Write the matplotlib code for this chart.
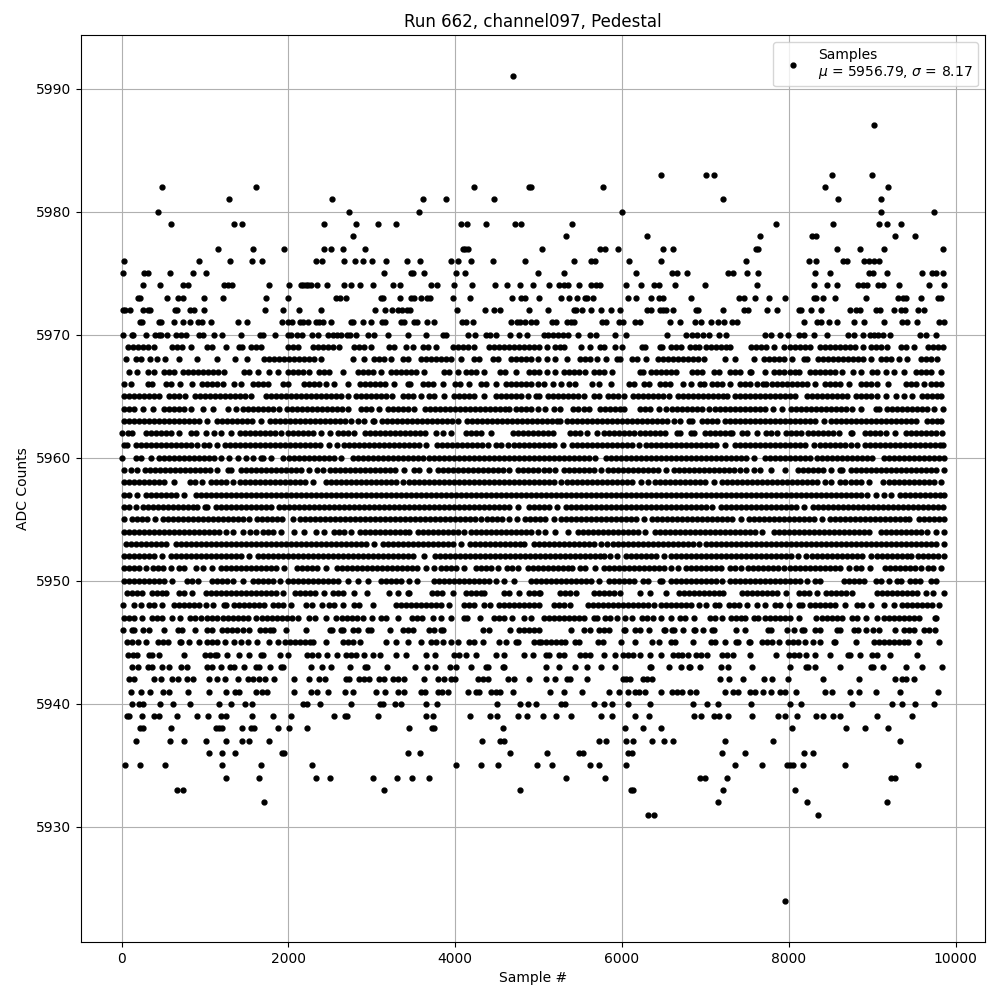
import matplotlib
matplotlib.use("Agg")
import matplotlib.pyplot as plt

# sample numbers for each ADC level
s5991 = [4688]
s5987 = [9024]
s5983 = [6468, 7008, 7104, 8520, 9000]
s5982 = [488, 1616, 4220, 4880, 4912, 5772, 8436, 9192]
s5981 = [1292, 2528, 3620, 3884, 4460, 7212, 8592, 9108]
s5980 = [440, 2732, 3572, 6000, 9108, 9744]
s5979 = [596, 1352, 1448, 2432, 2816, 3080, 3296, 4064, 4136, 4364, 4712, 4784, 5400, 7848, 8532, 9084, 9180, 9348]
s5978 = [2780, 5328, 6300, 7656, 8280, 8328, 9276, 9516]
s5977 = [1160, 1580, 1952, 2432, 2516, 2660, 2924, 4088, 4120, 4148, 5040, 5736, 5796, 5952, 6492, 6612, 7608, 7628, 8580, 8856, 9144, 9852]
s5976 = [32, 932, 1304, 1568, 1688, 2336, 2408, 2672, 2804, 2900, 3008, 3176, 3428, 3584, 3944, 4028, 4184, 4448, 4832, 5424, 5628, 5676, 6084, 6468, 7488, 8244, 8328, 8652, 8700, 8904, 8964, 9020, 9084]
s5975 = [20, 272, 320, 584, 860, 1016, 3152, 3476, 3492, 3632, 4004, 4112, 4988, 5304, 6168, 6600, 6660, 6780, 7272, 7332, 7500, 7632, 8316, 8496, 8964, 9012, 9180, 9600, 9720, 9768, 9852]
s5974 = [260, 464, 740, 800, 1232, 1280, 1328, 1772, 2012, 2156, 2180, 2208, 2240, 2268, 2348, 2468, 2672, 2756, 2864, 3020, 3260, 3344, 3704, 3776, 3980, 4196, 4472, 4616, 4772, 4928, 5124, 5244, 5304, 5352, 5484, 5628, 5688, 5736, 6048, 6228, 6384, 6444, 6636, 6996, 7620, 8304, 8460, 8580, 8832, 8892, 8940, 9072, 9132, 9324, 9684, 9860]
s5973 = [200, 224, 548, 680, 740, 992, 1220, 1736, 2000, 2576, 2624, 2696, 3116, 3140, 3344, 3476, 3512, 3596, 3660, 3692, 3968, 4172, 4676, 4784, 4832, 5000, 5268, 5364, 5460, 5556, 5580, 5652, 6072, 6168, 6348, 6444, 6492, 6828, 7404, 7464, 7596, 7764, 7956, 8304, 8328, 8412, 8556, 8928, 9312, 9364, 9408, 9588, 9792, 9828]
s5972 = [20, 44, 104, 260, 320, 344, 644, 660, 824, 872, 992, 1724, 1940, 2132, 2396, 3044, 3164, 3248, 3320, 3368, 3428, 3464, 4016, 4352, 4460, 4532, 4880, 5112, 5424, 5448, 5520, 5628, 5748, 5868, 5972, 6300, 6348, 6456, 6492, 6524, 6612, 6888, 6912, 7212, 7464, 7512, 7740, 7860, 8124, 8148, 8268, 8388, 8736, 8808, 8856, 9048, 9096, 9264, 9340, 9388, 9552, 9624]
s5971 = [224, 248, 452, 476, 632, 740, 824, 920, 968, 1076, 1400, 1508, 1928, 2000, 2048, 2144, 2180, 2240, 2336, 2372, 2420, 2516, 2756, 2780, 2900, 2996, 3128, 3164, 3356, 3392, 3512, 3548, 3668, 3740, 4076, 4124, 4208, 4664, 4736, 4772, 4832, 4904, 4964, 5160, 5208, 5340, 5388, 5424, 5760, 5808, 5964, 6012, 6156, 6216, 6576, 6696, 6876, 6948, 7068, 7152, 7224, 7320, 7380, 8184, 8340, 8388, 8484, 8580, 8784, 8904, 9144, 9356, 9420, 9540, 9804, 9860]
s5970 = [20, 128, 140, 296, 404, 452, 476, 548, 656, 716, 776, 932, 980, 1112, 1208, 1436, 1664, 1700, 1844, 2000, 2036, 2108, 2168, 2288, 2360, 2480, 2540, 2588, 2636, 2708, 2740, 2816, 2960, 3032, 3200, 3440, 3656, 3848, 3884, 4148, 4232, 4364, 4412, 4484, 4652, 4760, 4856, 5064, 5112, 5172, 5232, 5292, 5352, 5472, 5616, 5688, 5916, 6048, 6540, 6768, 6840, 6900, 6972, 7044, 7164, 7248, 7716, 7788, 7896, 7992, 8124, 8184, 8304, 8460, 8712, 8784, 8892, 8976, 9024, 9072, 9132, 9216, 9576, 9648, 9768]
s5969 = [80, 140, 200, 260, 320, 390, 610, 670, 730, 830, 1030, 1080, 1256, 1410, 1440, 1550, 1610, 1670, 1990, 2050, 2110, 2290, 2350, 2410, 2470, 2530, 2610, 2790, 2850, 2910, 2990, 3210, 3270, 3410, 3490, 3610, 3670, 3770, 3970, 4030, 4090, 4150, 4230, 4400, 4460, 4520, 4580, 4640, 4700, 4760, 4820, 4880, 4940, 5000, 5100, 5200, 5260, 5310, 5512, 5620, 5740, 5790, 5920, 6000, 6240, 6280, 6450, 6480, 6590, 6650, 6710, 6810, 6870, 6920, 7010, 7070, 7130, 7190, 7250, 7300, 7550, 7610, 7670, 7730, 7820, 7940, 8020, 8080, 8140, 8200, 8260, 8370, 8430, 8490, 8550, 8610, 8670, 8730, 8790, 8890, 8990, 9050, 9110, 9180, 9340, 9400, 9500, 9670, 9730, 9790, 9850]
s5968 = [48, 170, 230, 340, 420, 520, 692, 908, 1148, 1364, 1500, 1710, 1770, 1830, 1890, 1950, 2010, 2070, 2130, 2190, 2250, 2310, 2390, 2780, 2912, 3030, 3090, 3150, 3230, 3370, 3430, 3590, 3650, 3710, 3770, 3830, 3890, 3950, 4070, 4230, 4290, 4450, 4510, 4670, 4730, 4790, 4850, 4910, 4990, 5100, 5200, 5340, 5500, 5560, 5620, 5700, 5804, 5940, 5980, 6120, 6180, 6292, 6430, 6490, 6550, 6610, 6670, 6730, 6790, 6850, 6910, 6980, 7240, 7350, 7584, 7700, 7760, 7820, 7880, 7940, 8044, 8180, 8220, 8350, 8410, 8470, 8530, 8590, 8650, 8710, 8770, 8830, 8890, 8980, 9100, 9160, 9220, 9320, 9412, 9580, 9640, 9700, 9780]
s5967 = [90, 190, 320, 390, 510, 570, 630, 740, 800, 860, 920, 980, 1040, 1100, 1160, 1230, 1470, 1530, 1630, 1770, 1870, 1990, 2050, 2110, 2170, 2250, 2370, 2430, 2490, 2650, 2830, 2890, 2950, 3010, 3110, 3230, 3290, 3350, 3410, 3470, 3530, 3630, 3870, 3930, 4030, 4130, 4190, 4250, 4350, 4540, 4600, 4730, 4890, 4950, 5010, 5100, 5192, 5300, 5360, 5420, 5480, 5560, 5670, 5730, 5790, 5880, 6210, 6250, 6350, 6410, 6470, 6530, 6590, 6650, 6840, 6900, 6960, 7100, 7160, 7290, 7350, 7420, 7540, 7550, 7710, 7820, 7880, 7940, 8010, 8070, 8120, 8260, 8320, 8380, 8440, 8500, 8560, 8640, 8770, 8860, 9000, 9060, 9160, 9260, 9384, 9520, 9580, 9640, 9700, 9820]
s5966 = [30, 110, 320, 370, 530, 590, 700, 840, 960, 1020, 1080, 1140, 1210, 1350, 1430, 1570, 1630, 1690, 1760, 1930, 1990, 2190, 2250, 2310, 2370, 2450, 2548, 2720, 2860, 2920, 2980, 3040, 3100, 3160, 3270, 3430, 3460, 3610, 3670, 3730, 3848, 4000, 4060, 4160, 4310, 4370, 4490, 4610, 4670, 4730, 4790, 4850, 4910, 4990, 5060, 5172, 5272, 5370, 5440, 5640, 5720, 5864, 6090, 6140, 6260, 6320, 6460, 6520, 6580, 6732, 6832, 6930, 6980, 7080, 7140, 7200, 7300, 7420, 7480, 7540, 7620, 7692, 7732, 7800, 7860, 7920, 7980, 8040, 8100, 8160, 8220, 8320, 8440, 8500, 8560, 8620, 8720, 8860, 8920, 8980, 9060, 9192, 9400, 9460, 9520, 9624, 9710, 9770, 9830]
s5965 = [30, 90, 150, 210, 270, 330, 390, 450, 570, 630, 690, 760, 880, 940, 1000, 1060, 1120, 1180, 1240, 1300, 1360, 1420, 1480, 1550, 1730, 1790, 1850, 1910, 1970, 2030, 2090, 2150, 2210, 2270, 2330, 2390, 2450, 2510, 2570, 2630, 2710, 2810, 2870, 2930, 2990, 3050, 3110, 3170, 3240, 3370, 3430, 3490, 3590, 3690, 3750, 3870, 3990, 4050, 4110, 4170, 4230, 4350, 4490, 4550, 4610, 4670, 4730, 4790, 4870, 4970, 5010, 5110, 5170, 5230, 5290, 5350, 5410, 5470, 5540, 5660, 5720, 5830, 5890, 5950, 6020, 6130, 6190, 6250, 6310, 6370, 6430, 6490, 6560, 6670, 6730, 6790, 6850, 6910, 6970, 7030, 7090, 7150, 7210, 7260, 7360, 7420, 7480, 7540, 7600, 7660, 7720, 7780, 7840, 7900, 7960, 8020, 8080, 8220, 8280, 8340, 8400, 8460, 8520, 8580, 8640, 8700, 8800, 8860, 8920, 8980, 9060, 9170, 9280, 9380, 9480, 9600, 9660, 9720, 9780, 9820]
s5964 = [30, 90, 150, 260, 380, 510, 570, 630, 690, 750, 830, 980, 1100, 1270, 1370, 1460, 1520, 1580, 1640, 1700, 1760, 1820, 1890, 1980, 2040, 2100, 2160, 2220, 2280, 2340, 2400, 2460, 2520, 2580, 2640, 2720, 2870, 2930, 2990, 3090, 3200, 3260, 3320, 3380, 3440, 3510, 3640, 3700, 3760, 3820, 3880, 3940, 4000, 4060, 4120, 4180, 4240, 4300, 4360, 4420, 4480, 4540, 4600, 4650, 4730, 4790, 4850, 4910, 4990, 5080, 5180, 5260, 5410, 5470, 5540, 5610, 5740, 5800, 5860, 5920, 5980, 6030, 6220, 6280, 6340, 6440, 6524, 6600, 6660, 6720, 6780, 6840, 6900, 6960, 7040, 7120, 7180, 7240, 7300, 7360, 7420, 7480, 7540, 7600, 7660, 7720, 7810, 7924, 8030, 8090, 8150, 8210, 8270, 8330, 8390, 8450, 8510, 8570, 8630, 8690, 8760, 8860, 9040, 9080, 9180, 9240, 9300, 9360, 9420, 9480, 9540, 9600, 9660, 9740, 9844]
s5963 = [30, 90, 150, 210, 270, 330, 390, 450, 510, 570, 630, 690, 750, 810, 870, 930, 1030, 1140, 1200, 1260, 1320, 1380, 1440, 1500, 1560, 1670, 1780, 1840, 1900, 1960, 2020, 2080, 2140, 2200, 2260, 2320, 2380, 2440, 2500, 2560, 2620, 2680, 2750, 2830, 2910, 3010, 3030, 3120, 3180, 3240, 3300, 3360, 3420, 3480, 3540, 3600, 3660, 3720, 3780, 3840, 3900, 3960, 4030, 4140, 4200, 4260, 4320, 4380, 4440, 4500, 4560, 4620, 4680, 4740, 4800, 4860, 4920, 4980, 5040, 5100, 5160, 5220, 5260, 5340, 5400, 5460, 5520, 5580, 5640, 5700, 5760, 5820, 5880, 5940, 6000, 6060, 6120, 6180, 6240, 6300, 6360, 6420, 6480, 6540, 6620, 6700, 6800, 6840, 6960, 7020, 7080, 7140, 7240, 7300, 7360, 7420, 7480, 7540, 7600, 7660, 7720, 7780, 7840, 7900, 7960, 8020, 8080, 8140, 8200, 8260, 8320, 8420, 8510, 8570, 8630, 8690, 8750, 8810, 8870, 8930, 8990, 9050, 9110, 9170, 9230, 9290, 9350, 9410, 9470, 9520, 9660, 9720, 9780, 9820]
s5962 = [6, 80, 130, 290, 350, 410, 470, 530, 590, 690, 830, 890, 1010, 1110, 1190, 1308, 1420, 1480, 1540, 1600, 1660, 1720, 1780, 1840, 1910, 1990, 2050, 2110, 2170, 2230, 2290, 2390, 2500, 2590, 2650, 2710, 2790, 2920, 2980, 3040, 3100, 3160, 3220, 3280, 3340, 3400, 3460, 3520, 3580, 3640, 3770, 3850, 3950, 4130, 4190, 4250, 4310, 4430, 4690, 4750, 4810, 4870, 4930, 4990, 5050, 5110, 5170, 5380, 5440, 5500, 5580, 5704, 5790, 5850, 5910, 5970, 6030, 6090, 6150, 6210, 6270, 6330, 6390, 6450, 6520, 6660, 6700, 6830, 6860, 6990, 7050, 7110, 7170, 7230, 7290, 7320, 7440, 7500, 7620, 7730, 7790, 7860, 7970, 8030, 8090, 8150, 8230, 8290, 8350, 8410, 8470, 8530, 8600, 8740, 8760, 8910, 8970, 9030, 9090, 9160, 9272, 9410, 9470, 9530, 9590, 9650, 9710, 9770, 9840]
s5961 = [30, 70, 170, 230, 290, 350, 410, 470, 530, 590, 650, 710, 770, 830, 900, 990, 1050, 1150, 1240, 1300, 1360, 1420, 1480, 1540, 1600, 1660, 1720, 1780, 1840, 1900, 1960, 2020, 2080, 2140, 2200, 2260, 2320, 2380, 2490, 2580, 2670, 2730, 2790, 2850, 2910, 2970, 3030, 3090, 3150, 3210, 3270, 3330, 3390, 3450, 3510, 3570, 3650, 3780, 3840, 3900, 3960, 4020, 4080, 4140, 4200, 4260, 4320, 4390, 4490, 4550, 4630, 4710, 4770, 4830, 4890, 4950, 5010, 5070, 5130, 5190, 5290, 5400, 5460, 5520, 5580, 5640, 5700, 5760, 5820, 5880, 5940, 6000, 6060, 6120, 6200, 6290, 6350, 6410, 6470, 6530, 6590, 6650, 6710, 6770, 6830, 6890, 6950, 7010, 7070, 7130, 7230, 7350, 7410, 7470, 7530, 7590, 7650, 7710, 7770, 7830, 7890, 7950, 8010, 8070, 8130, 8190, 8300, 8380, 8440, 8500, 8560, 8620, 8680, 8740, 8820, 8910, 8970, 9030, 9090, 9150, 9210, 9270, 9330, 9390, 9450, 9510, 9570, 9630, 9690, 9750, 9810, 9850]
s5960 = [6, 170, 230, 350, 444, 510, 570, 630, 690, 750, 810, 870, 930, 990, 1050, 1110, 1190, 1290, 1390, 1490, 1570, 1670, 1690, 1790, 1930, 2010, 2070, 2130, 2190, 2250, 2310, 2370, 2430, 2490, 2550, 2630, 2770, 2840, 2900, 2960, 3020, 3080, 3140, 3200, 3260, 3320, 3380, 3440, 3500, 3560, 3620, 3680, 3740, 3800, 3860, 3920, 3980, 4040, 4100, 4160, 4220, 4280, 4340, 4400, 4460, 4520, 4580, 4640, 4700, 4760, 4820, 4880, 4940, 5000, 5060, 5120, 5180, 5240, 5300, 5360, 5420, 5480, 5540, 5600, 5680, 5810, 5870, 5930, 5990, 6050, 6110, 6170, 6230, 6290, 6350, 6410, 6470, 6530, 6590, 6650, 6710, 6770, 6830, 6890, 6950, 7010, 7070, 7130, 7190, 7250, 7310, 7370, 7430, 7490, 7580, 7710, 7770, 7830, 7890, 7950, 8010, 8070, 8130, 8190, 8250, 8340, 8400, 8460, 8520, 8580, 8640, 8700, 8760, 8820, 8880, 8940, 9000, 9140, 9200, 9260, 9320, 9380, 9440, 9500, 9560, 9620, 9680, 9740, 9800, 9860]
s5959 = [30, 110, 188, 280, 340, 400, 460, 520, 580, 640, 700, 760, 820, 880, 940, 1000, 1060, 1150, 1270, 1310, 1430, 1490, 1550, 1610, 1670, 1730, 1790, 1850, 1910, 1970, 2030, 2090, 2150, 2250, 2340, 2410, 2500, 2560, 2620, 2680, 2740, 2800, 2860, 2920, 2980, 3040, 3100, 3160, 3220, 3280, 3390, 3510, 3570, 3690, 3790, 3850, 3910, 3970, 4030, 4090, 4150, 4210, 4270, 4330, 4390, 4450, 4510, 4570, 4650, 4750, 4810, 4870, 4930, 4990, 5060, 5120, 5200, 5300, 5360, 5420, 5480, 5540, 5600, 5660, 5750, 5830, 5890, 5950, 6010, 6070, 6130, 6190, 6250, 6310, 6370, 6430, 6530, 6620, 6680, 6740, 6800, 6860, 6920, 6980, 7040, 7100, 7160, 7220, 7280, 7340, 7420, 7492, 7580, 7660, 7790, 7960, 8110, 8170, 8230, 8290, 8350, 8410, 8510, 8610, 8640, 8740, 8800, 8860, 8920, 8980, 9040, 9100, 9160, 9220, 9280, 9340, 9400, 9460, 9520, 9580, 9640, 9700, 9760, 9860]
s5958 = [30, 90, 150, 210, 270, 330, 390, 450, 510, 630, 820, 880, 970, 1070, 1130, 1190, 1250, 1330, 1420, 1480, 1540, 1600, 1660, 1720, 1780, 1840, 1900, 1960, 2020, 2080, 2140, 2200, 2290, 2450, 2510, 2570, 2630, 2690, 2750, 2810, 2870, 2930, 2990, 3050, 3110, 3170, 3230, 3290, 3370, 3450, 3510, 3570, 3630, 3690, 3750, 3810, 3870, 3930, 3990, 4050, 4110, 4170, 4230, 4290, 4350, 4410, 4470, 4530, 4590, 4650, 4710, 4770, 4830, 4890, 4950, 5010, 5070, 5130, 5190, 5270, 5340, 5400, 5460, 5520, 5580, 5640, 5700, 5760, 5820, 5880, 5940, 6000, 6060, 6120, 6230, 6310, 6400, 6460, 6520, 6580, 6640, 6700, 6760, 6820, 6880, 6940, 7000, 7100, 7200, 7260, 7320, 7380, 7440, 7500, 7560, 7620, 7680, 7740, 7800, 7860, 7920, 7980, 8040, 8100, 8160, 8220, 8280, 8340, 8440, 8512, 8620, 8680, 8740, 8800, 8860, 8960, 9124, 9200, 9260, 9320, 9380, 9440, 9500, 9560, 9620, 9680, 9740, 9820]
s5957 = [30, 90, 190, 290, 350, 410, 470, 530, 590, 650, 750, 890, 950, 1010, 1070, 1130, 1190, 1250, 1310, 1370, 1430, 1490, 1550, 1610, 1670, 1730, 1790, 1850, 1910, 1970, 2030, 2090, 2150, 2210, 2270, 2330, 2390, 2450, 2510, 2570, 2630, 2690, 2750, 2810, 2870, 2930, 2990, 3050, 3110, 3170, 3230, 3290, 3350, 3410, 3470, 3530, 3590, 3650, 3710, 3770, 3830, 3890, 3950, 4010, 4070, 4130, 4190, 4250, 4310, 4370, 4430, 4490, 4550, 4610, 4670, 4730, 4790, 4850, 4910, 4970, 5030, 5090, 5150, 5210, 5270, 5330, 5390, 5450, 5510, 5570, 5630, 5690, 5750, 5810, 5870, 5930, 5990, 6050, 6110, 6170, 6230, 6290, 6350, 6410, 6470, 6530, 6590, 6650, 6710, 6770, 6830, 6890, 6950, 7010, 7070, 7130, 7190, 7250, 7310, 7370, 7430, 7490, 7550, 7610, 7670, 7730, 7790, 7850, 7910, 7970, 8030, 8090, 8150, 8210, 8270, 8330, 8390, 8450, 8510, 8570, 8630, 8690, 8750, 8810, 8860, 8940, 9040, 9140, 9230, 9330, 9390, 9450, 9510, 9570, 9630, 9690, 9750, 9810, 9860]
s5956 = [30, 90, 172, 260, 320, 380, 440, 500, 560, 620, 680, 740, 800, 860, 910, 1000, 1030, 1130, 1190, 1250, 1310, 1370, 1430, 1490, 1550, 1610, 1670, 1730, 1790, 1890, 1950, 2010, 2070, 2130, 2190, 2250, 2310, 2370, 2430, 2490, 2550, 2610, 2670, 2730, 2790, 2850, 2910, 2970, 3030, 3090, 3150, 3210, 3270, 3330, 3390, 3450, 3510, 3570, 3630, 3690, 3750, 3810, 3870, 3930, 3990, 4050, 4110, 4170, 4230, 4290, 4350, 4410, 4470, 4530, 4590, 4650, 4750, 4890, 4950, 5010, 5070, 5130, 5220, 5330, 5390, 5450, 5510, 5570, 5630, 5690, 5750, 5810, 5870, 5930, 5990, 6050, 6110, 6170, 6230, 6290, 6350, 6410, 6470, 6530, 6590, 6650, 6710, 6770, 6830, 6890, 6950, 7010, 7080, 7190, 7250, 7310, 7370, 7430, 7490, 7550, 7610, 7670, 7730, 7790, 7850, 7910, 7970, 8030, 8090, 8180, 8290, 8350, 8410, 8470, 8530, 8590, 8650, 8710, 8770, 8830, 8890, 8950, 9010, 9070, 9130, 9190, 9250, 9310, 9370, 9430, 9490, 9550, 9610, 9670, 9730, 9790, 9850]
s5955 = [32, 120, 180, 240, 300, 400, 500, 560, 620, 680, 740, 800, 860, 920, 980, 1040, 1100, 1160, 1220, 1280, 1340, 1400, 1460, 1530, 1620, 1680, 1740, 1800, 1860, 1920, 2050, 2140, 2200, 2260, 2320, 2380, 2440, 2500, 2560, 2620, 2680, 2740, 2800, 2860, 2920, 2980, 3040, 3100, 3160, 3220, 3280, 3340, 3400, 3460, 3520, 3580, 3640, 3700, 3760, 3820, 3880, 3940, 4000, 4060, 4120, 4180, 4240, 4310, 4380, 4440, 4500, 4560, 4650, 4740, 4840, 4900, 4960, 5020, 5080, 5180, 5270, 5330, 5390, 5450, 5510, 5570, 5630, 5690, 5750, 5810, 5870, 5930, 5990, 6050, 6110, 6170, 6260, 6360, 6420, 6480, 6540, 6600, 6660, 6720, 6780, 6840, 6900, 6960, 7020, 7080, 7140, 7200, 7260, 7320, 7430, 7520, 7580, 7640, 7700, 7760, 7820, 7880, 7940, 8000, 8060, 8120, 8180, 8240, 8300, 8400, 8490, 8550, 8610, 8670, 8730, 8790, 8850, 8910, 8970, 9030, 9090, 9150, 9210, 9270, 9330, 9390, 9440, 9560, 9620, 9680, 9740, 9800, 9860]
s5954 = [30, 90, 150, 210, 270, 330, 390, 450, 510, 570, 630, 690, 750, 810, 870, 930, 990, 1050, 1110, 1170, 1250, 1340, 1450, 1540, 1610, 1700, 1760, 1820, 1910, 2070, 2190, 2330, 2430, 2550, 2610, 2670, 2750, 2860, 2920, 2980, 3040, 3100, 3160, 3220, 3280, 3340, 3400, 3450, 3550, 3610, 3670, 3730, 3790, 3850, 3910, 3970, 4030, 4100, 4190, 4250, 4310, 4370, 4430, 4490, 4550, 4610, 4670, 4730, 4790, 4850, 4910, 4990, 5080, 5200, 5350, 5470, 5530, 5590, 5650, 5710, 5770, 5830, 5890, 5950, 6010, 6070, 6130, 6190, 6270, 6390, 6450, 6510, 6570, 6630, 6690, 6750, 6810, 6870, 6930, 6990, 7050, 7110, 7170, 7230, 7290, 7350, 7410, 7470, 7530, 7590, 7680, 7820, 7880, 7940, 8000, 8060, 8120, 8180, 8240, 8300, 8360, 8420, 8480, 8540, 8600, 8660, 8720, 8780, 8840, 8900, 8960, 9110, 9170, 9230, 9290, 9350, 9410, 9470, 9530, 9590, 9660, 9770, 9860]
s5953 = [50, 110, 170, 230, 290, 350, 410, 470, 530, 650, 710, 770, 830, 890, 950, 1010, 1070, 1130, 1190, 1250, 1310, 1370, 1430, 1490, 1550, 1610, 1670, 1730, 1790, 1850, 1910, 1970, 2030, 2090, 2150, 2210, 2270, 2330, 2390, 2450, 2510, 2570, 2630, 2690, 2750, 2810, 2870, 2930, 3030, 3130, 3190, 3250, 3310, 3370, 3430, 3490, 3550, 3610, 3670, 3730, 3790, 3850, 3910, 3970, 4070, 4180, 4240, 4300, 4360, 4420, 4480, 4540, 4600, 4660, 4720, 4780, 4830, 4940, 5000, 5060, 5120, 5180, 5240, 5300, 5360, 5420, 5480, 5540, 5600, 5660, 5750, 5820, 5890, 5950, 6010, 6070, 6130, 6190, 6250, 6310, 6370, 6430, 6490, 6550, 6610, 6670, 6730, 6790, 6850, 6920, 7010, 7070, 7130, 7190, 7250, 7310, 7370, 7430, 7490, 7550, 7610, 7670, 7730, 7790, 7850, 7910, 7970, 8030, 8090, 8150, 8210, 8270, 8330, 8390, 8450, 8510, 8570, 8630, 8690, 8750, 8810, 8870, 8930, 8990, 9050, 9110, 9170, 9230, 9290, 9350, 9410, 9470, 9530, 9590, 9650, 9710, 9770, 9860]
s5952 = [30, 90, 150, 210, 270, 330, 390, 490, 590, 650, 710, 770, 830, 890, 950, 1010, 1070, 1130, 1190, 1250, 1310, 1370, 1430, 1530, 1640, 1700, 1760, 1820, 1880, 1940, 2000, 2060, 2120, 2180, 2240, 2300, 2360, 2420, 2480, 2540, 2600, 2660, 2720, 2780, 2840, 2900, 2960, 3020, 3080, 3140, 3200, 3260, 3320, 3380, 3440, 3500, 3630, 3760, 3820, 3880, 3940, 4000, 4060, 4120, 4180, 4240, 4300, 4360, 4420, 4480, 4540, 4600, 4660, 4720, 4780, 4840, 4900, 4960, 5020, 5080, 5140, 5200, 5260, 5320, 5380, 5440, 5500, 5560, 5620, 5680, 5740, 5790, 5860, 5940, 6050, 6110, 6170, 6230, 6290, 6350, 6410, 6500, 6590, 6650, 6710, 6770, 6830, 6890, 6950, 7010, 7070, 7130, 7190, 7250, 7310, 7370, 7430, 7490, 7550, 7610, 7670, 7730, 7790, 7850, 7910, 7970, 8030, 8110, 8204, 8280, 8340, 8400, 8460, 8520, 8580, 8640, 8700, 8760, 8820, 8880, 8980, 9060, 9120, 9180, 9240, 9300, 9360, 9420, 9470, 9550, 9610, 9670, 9730, 9790, 9860]
s5951 = [30, 90, 150, 210, 290, 380, 440, 500, 590, 690, 750, 890, 972, 1080, 1190, 1250, 1310, 1370, 1430, 1490, 1550, 1610, 1670, 1730, 1790, 1850, 1950, 2100, 2160, 2220, 2280, 2340, 2450, 2580, 2640, 2700, 2760, 2820, 2880, 2940, 3000, 3060, 3120, 3180, 3240, 3300, 3360, 3420, 3480, 3540, 3650, 3740, 3830, 3890, 3950, 4010, 4100, 4250, 4310, 4370, 4430, 4510, 4620, 4680, 4750, 4870, 4930, 4990, 5050, 5110, 5170, 5230, 5290, 5350, 5400, 5500, 5560, 5680, 5780, 5840, 5900, 5960, 6020, 6080, 6140, 6200, 6260, 6320, 6380, 6440, 6500, 6592, 6672, 6770, 6830, 6890, 6950, 7010, 7070, 7130, 7190, 7290, 7350, 7430, 7510, 7570, 7630, 7690, 7750, 7810, 7870, 7940, 8020, 8080, 8140, 8200, 8260, 8320, 8380, 8440, 8500, 8560, 8620, 8720, 8810, 8870, 8970, 9150, 9210, 9270, 9330, 9390, 9450, 9510, 9580, 9670, 9730, 9820]
s5950 = [30, 90, 150, 210, 270, 330, 390, 450, 510, 600, 780, 840, 920, 1080, 1140, 1200, 1260, 1340, 1460, 1570, 1630, 1690, 1750, 1810, 1900, 2000, 2060, 2120, 2180, 2240, 2300, 2360, 2420, 2480, 2540, 2600, 2710, 2830, 2950, 3110, 3170, 3230, 3290, 3350, 3450, 3548, 3750, 3810, 3870, 3930, 3990, 4050, 4110, 4170, 4230, 4290, 4350, 4410, 4490, 4590, 4710, 4910, 4970, 5030, 5090, 5150, 5210, 5270, 5330, 5390, 5450, 5510, 5570, 5630, 5720, 5850, 5910, 5970, 6030, 6090, 6140, 6250, 6310, 6460, 6480, 6590, 6650, 6710, 6770, 6830, 6890, 6950, 7010, 7070, 7130, 7200, 7290, 7350, 7410, 7470, 7530, 7590, 7650, 7710, 7770, 7830, 7890, 7950, 8010, 8070, 8130, 8220, 8312, 8380, 8660, 8720, 8780, 8840, 8900, 9040, 9100, 9200, 9300, 9340, 9450, 9510, 9570, 9700, 9760]
s5949 = [70, 130, 190, 250, 360, 420, 480, 530, 690, 750, 850, 1010, 1070, 1130, 1190, 1250, 1310, 1370, 1430, 1490, 1550, 1610, 1670, 1730, 1790, 1850, 1930, 2080, 2140, 2200, 2260, 2320, 2430, 2530, 2590, 2650, 2790, 2940, 3210, 3320, 3430, 3450, 3720, 3780, 3840, 3970, 4130, 4190, 4250, 4310, 4350, 4590, 4650, 4770, 4890, 4950, 5010, 5020, 5260, 5320, 5380, 5450, 5660, 5720, 5780, 5840, 5900, 5980, 6220, 6330, 6524, 6680, 6740, 6800, 6860, 6920, 6980, 7040, 7100, 7160, 7210, 7440, 7500, 7560, 7620, 7680, 7740, 7800, 7860, 7970, 8120, 8180, 8240, 8340, 8450, 8510, 8570, 8630, 8690, 8760, 9060, 9120, 9180, 9240, 9300, 9360, 9420, 9480, 9540, 9640, 9724, 9860]
s5948 = [20, 150, 230, 330, 390, 490, 630, 690, 750, 810, 870, 930, 1010, 1100, 1230, 1250, 1350, 1410, 1470, 1530, 1590, 1650, 1710, 1810, 1870, 1930, 2030, 2210, 2280, 2400, 2490, 2550, 2650, 2790, 2850, 3020, 3290, 3350, 3410, 3470, 3530, 3590, 3650, 3710, 3770, 3830, 3930, 4110, 4170, 4230, 4350, 4420, 4530, 4590, 4650, 4710, 4770, 4830, 4890, 4950, 5010, 5180, 5240, 5300, 5380, 5590, 5650, 5710, 5770, 5830, 5890, 5950, 6010, 6070, 6130, 6190, 6250, 6310, 6380, 6470, 6530, 6590, 6650, 6710, 6770, 6830, 6920, 7004, 7120, 7160, 7280, 7340, 7400, 7500, 7620, 7720, 7840, 7900, 8000, 8120, 8160, 8260, 8320, 8380, 8440, 8500, 8560, 8680, 8820, 8880, 8980, 9140, 9260, 9360, 9420, 9480, 9540, 9600, 9660, 9720, 9800]
s5947 = [30, 90, 150, 250, 360, 420, 490, 610, 700, 820, 880, 950, 1030, 1090, 1150, 1210, 1270, 1330, 1390, 1450, 1510, 1610, 1680, 1740, 1800, 1860, 1920, 1980, 2040, 2120, 2250, 2320, 2450, 2570, 2640, 2700, 2760, 2820, 2890, 3000, 3110, 3170, 3310, 3480, 3540, 3600, 3730, 3830, 3950, 4100, 4140, 4292, 4470, 4530, 4590, 4680, 4820, 4908, 5060, 5120, 5180, 5240, 5300, 5360, 5420, 5480, 5550, 5660, 5700, 5800, 5860, 5940, 6040, 6120, 6240, 6300, 6370, 6470, 6590, 6690, 6750, 6860, 7050, 7120, 7204, 7310, 7370, 7430, 7480, 7580, 7630, 7720, 7780, 7840, 7900, 7960, 8020, 8120, 8324, 8400, 8460, 8520, 8580, 8640, 8760, 8820, 8920, 9060, 9140, 9200, 9260, 9320, 9380, 9440, 9500, 9560, 9750, 9760]
s5946 = [20, 130, 150, 260, 330, 512, 680, 730, 880, 1020, 1090, 1200, 1260, 1320, 1380, 1460, 1532, 1660, 1720, 1780, 1820, 1976, 2208, 2500, 2520, 2630, 2650, 2770, 2830, 2950, 2990, 3220, 3380, 3440, 3500, 3690, 3750, 3830, 3850, 4330, 4410, 4660, 4770, 4830, 4890, 4950, 5000, 5388, 5540, 5620, 5730, 5790, 5850, 6020, 6040, 6160, 6220, 6320, 6500, 6520, 6600, 6620, 6730, 6860, 6880, 6972, 7080, 7100, 7370, 7470, 7750, 7790, 7980, 8064, 8160, 8180, 8320, 8380, 8580, 8620, 8780, 8830, 8924, 9004, 9084, 9276, 9380, 9440, 9500, 9620, 9680, 9750]
s5945 = [60, 120, 200, 292, 440, 500, 560, 700, 710, 812, 932, 1030, 1090, 1150, 1236, 1352, 1436, 1520, 1624, 1768, 1880, 1960, 2020, 2080, 2140, 2200, 2260, 2300, 2450, 2660, 2720, 2780, 2860, 3170, 3290, 3436, 3590, 3710, 3770, 3850, 3950, 4030, 4170, 4230, 4330, 4530, 4610, 4730, 4750, 4940, 5000, 5030, 5090, 5150, 5210, 5270, 5320, 5440, 5490, 5710, 5770, 5990, 6160, 6360, 6444, 6590, 6640, 6852, 7070, 7120, 7232, 7370, 7390, 7520, 7530, 7680, 7740, 7800, 7880, 7990, 8050, 8110, 8190, 8292, 8376, 8540, 8560, 8800, 9020, 9080, 9140, 9200, 9260, 9320, 9380, 9430, 9560, 9796]
s5944 = [80, 140, 190, 330, 360, 452, 744, 1000, 1060, 1120, 1150, 1260, 1404, 1530, 1670, 1690, 1900, 2000, 2220, 2280, 2350, 2460, 2580, 2690, 2750, 2810, 2910, 3010, 3104, 3296, 3416, 3650, 3760, 3980, 4040, 4130, 4244, 4490, 4590, 4820, 4928, 5090, 5120, 5240, 5310, 5500, 5560, 5620, 5780, 5912, 6010, 6070, 6130, 6220, 6330, 6470, 6610, 6670, 6720, 6792, 6890, 6950, 7020, 7200, 7260, 7330, 7536, 7844, 8000, 8060, 8120, 8210, 8320, 8500, 8710, 8730, 8856, 8992, 9060, 9208, 9540]
s5943 = [120, 200, 320, 370, 490, 570, 710, 790, 1030, 1080, 1188, 1300, 1350, 1472, 1610, 1650, 1784, 1910, 1930, 2272, 2400, 2516, 2744, 2920, 2940, 3188, 3524, 3668, 3760, 3932, 4012, 4190, 4370, 4390, 4570, 4590, 5090, 5244, 5436, 5580, 5752, 5920, 6340, 6350, 6564, 6708, 6800, 6820, 6936, 7190, 7270, 7560, 8016, 8210, 8230, 8316, 8612, 8990, 9010, 9132, 9408, 9600, 9840]
s5942 = [92, 152, 392, 476, 608, 680, 788, 860, 1052, 1148, 1244, 1400, 1520, 1580, 1652, 1724, 1832, 2072, 2252, 2372, 2444, 2696, 2732, 2852, 2912, 2972, 3092, 3152, 3260, 3320, 3392, 3632, 3788, 3860, 3944, 3992, 4268, 4328, 4388, 4628, 4700, 4880, 5092, 5196, 5340, 5380, 5580, 6012, 6044, 6100, 6252, 6300, 6364, 7180, 7284, 7452, 7700, 7804, 7992, 8412, 8844, 9272, 9352, 9404, 9504]
s5941 = [116, 236, 344, 500, 572, 800, 1052, 1256, 1364, 1412, 1616, 1680, 1748, 2072, 2276, 2348, 2480, 2684, 2780, 3048, 3164, 3320, 3392, 3596, 3644, 3788, 3836, 3908, 4148, 4244, 4280, 4424, 4484, 4532, 4688, 5140, 5304, 5520, 5844, 5964, 6072, 6156, 6204, 6272, 6468, 6600, 6660, 6720, 6812, 6888, 7236, 7332, 7392, 7536, 7596, 7692, 7788, 7896, 7956, 8088, 8432, 8520, 8736, 8844, 9048, 9336, 9792]
s5940 = [128, 212, 260, 464, 620, 824, 1172, 1316, 1484, 1568, 2180, 2228, 2384, 2752, 3104, 3140, 3284, 3356, 3656, 3776, 4496, 4772, 4868, 4968, 5272, 5312, 5664, 5780, 5880, 6072, 6336, 6852, 7024, 7152, 7548, 8016, 8148, 8760, 9240, 9360, 9516, 9744]
s5939 = [68, 84, 244, 392, 452, 668, 908, 1040, 1196, 1248, 1568, 1820, 2036, 2552, 2684, 2708, 3080, 3656, 3728, 4172, 4412, 4496, 4748, 4856, 5052, 5208, 5388, 5748, 5880, 6156, 6324, 6864, 6948, 7104, 7164, 7272, 7560, 7872, 7956, 8100, 8328, 8412, 8532, 8616, 9060, 9472]
s5938 = [224, 260, 596, 1136, 1172, 1208, 1448, 1556, 1588, 1880, 2012, 2228, 3452, 3716, 3740, 4568, 6036, 6252, 6468, 8040, 8688, 8916, 9192]
s5937 = [176, 584, 752, 1016, 1256, 1448, 1532, 1772, 4316, 4532, 4580, 5724, 5808, 6048, 6132, 6360, 6504, 6612, 7236, 7812, 9336]
s5936 = [1052, 1208, 1364, 1928, 1952, 3440, 3584, 4652, 5100, 5484, 5532, 6072, 6120, 7200, 7476, 8184, 8292]
s5935 = [44, 224, 524, 1208, 1676, 2288, 4004, 4304, 4508, 4980, 5160, 5616, 5724, 6048, 7356, 7680, 7980, 8012, 8052, 8172, 8676, 9552]
s5934 = [1256, 1652, 2336, 2504, 3020, 3308, 3488, 3680, 5328, 5796, 6936, 6996, 7260, 9228, 9276]
s5933 = [668, 740, 3152, 4772, 6108, 6132, 7212, 8076]
s5932 = [1712, 7152, 8220, 9180]
s5931 = [6312, 6384, 8352]
s5924 = [7954]

LEVELS = [5991, 5987, 5983, 5982, 5981, 5980, 5979, 5978, 5977, 5976, 5975, 5974, 5973, 5972, 5971, 5970,
          5969, 5968, 5967, 5966, 5965, 5964, 5963, 5962, 5961, 5960, 5959, 5958, 5957, 5956, 5955, 5954,
          5953, 5952, 5951, 5950, 5949, 5948, 5947, 5946, 5945, 5944, 5943, 5942, 5941, 5940, 5939, 5938,
          5937, 5936, 5935, 5934, 5933, 5932, 5931, 5924]
ROWS = [s5991, s5987, s5983, s5982, s5981, s5980, s5979, s5978, s5977, s5976, s5975, s5974, s5973, s5972, s5971, s5970,
        s5969, s5968, s5967, s5966, s5965, s5964, s5963, s5962, s5961, s5960, s5959, s5958, s5957, s5956, s5955, s5954,
        s5953, s5952, s5951, s5950, s5949, s5948, s5947, s5946, s5945, s5944, s5943, s5942, s5941, s5940, s5939, s5938,
        s5937, s5936, s5935, s5934, s5933, s5932, s5931, s5924]

xs, ys = [], []
for level, row in zip(LEVELS, ROWS):
    xs += row
    ys += [level] * len(row)

fig, ax = plt.subplots(figsize=(10, 10), dpi=100)
ax.plot(xs, ys, "k.", ms=7, label="Samples\n$\\mu$ = 5956.79, $\\sigma$ = 8.17")
ax.set_xlabel("Sample #")
ax.set_ylabel("ADC Counts")
ax.set_title("Run 662, channel097, Pedestal")
ax.grid(True)
ax.legend(loc="upper right")
fig.subplots_adjust(left=0.081, right=0.985, top=0.965, bottom=0.058)
fig.savefig("out.png")
